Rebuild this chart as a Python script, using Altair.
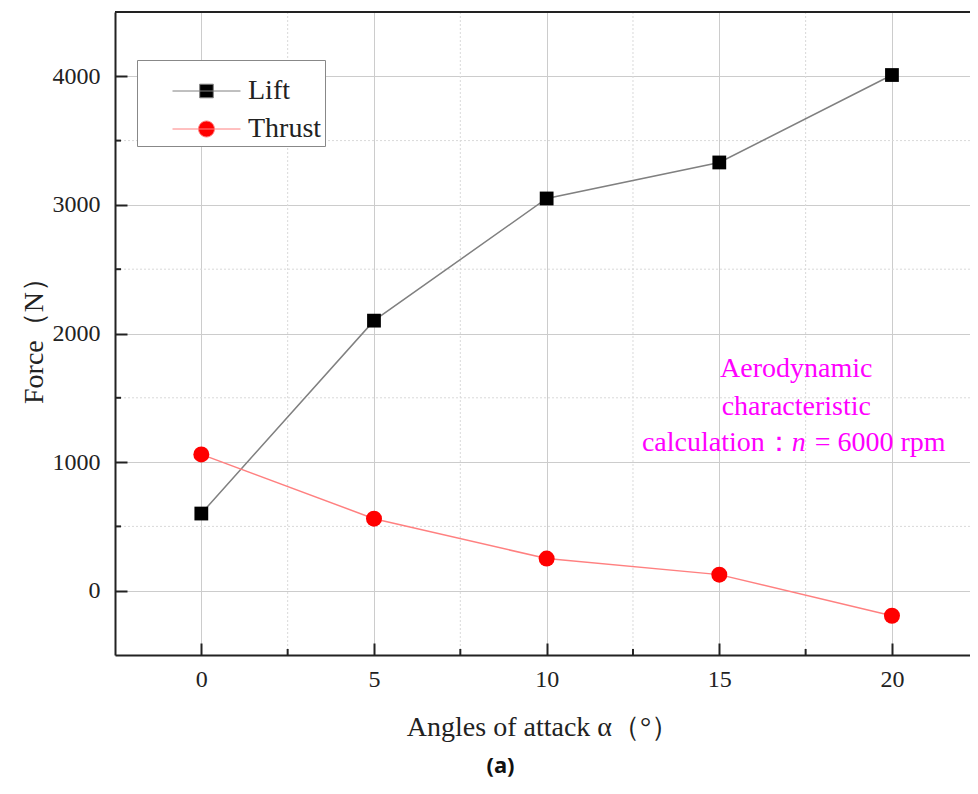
import altair as alt
import pandas as pd

# ---------------- data ----------------
angles = [0, 5, 10, 15, 20]
lift = [600, 2100, 3050, 3330, 4010]
thrust = [1060, 560, 250, 125, -195]
series_names = ["Lift", "Thrust"]
marker_colors = ["#000000", "#ff0000"]
line_colors = ["#808080", "#ff8080"]

x_major = [0, 5, 10, 15, 20]
x_minor = [2.5, 7.5, 12.5, 17.5]
y_major = [0, 1000, 2000, 3000, 4000]
y_minor = [500, 1500, 2500, 3500]

note_lines = ["Aerodynamic", "characteristic"]
note_line_y = [1724, 1428]
note_x = 17.23
note3_parts = ["calculation：", "n", "= 6000 rpm"]
note3_x = 17.30
note3_y = 1148

df = pd.DataFrame({
    "angle": angles * 2,
    "force": lift + thrust,
    "series": ["Lift"] * len(angles) + ["Thrust"] * len(angles),
})

W, H = 855, 643
FONT = "Liberation Serif"
TXT = "#222222"

xs = alt.Scale(domain=[-2.5, 22.26], nice=False, zero=False)
ys = alt.Scale(domain=[-500, 4500], nice=False, zero=False)

xaxis = alt.Axis(values=x_major, title="Angles of attack α（°）", grid=True,
                 gridColor="#cccccc", gridWidth=1, domainColor=TXT, domainWidth=2,
                 tickColor=TXT, tickWidth=2, tickSize=alt.ExprRef("-12"),
                 labelPadding=24, labelFont=FONT, labelFontSize=24, labelColor=TXT,
                 titleFont=FONT, titleFontSize=28, titleFontWeight="normal",
                 titleColor=TXT, titlePadding=22, format="d", labelFlush=False)
yaxis = alt.Axis(values=y_major, title="Force（N）", grid=True,
                 gridColor="#cccccc", gridWidth=1, domainColor=TXT, domainWidth=2,
                 tickColor=TXT, tickWidth=2, tickSize=alt.ExprRef("-12"),
                 labelPadding=27, labelFont=FONT, labelFontSize=24, labelColor=TXT,
                 titleFont=FONT, titleFontSize=28, titleFontWeight="normal",
                 titleColor=TXT, titlePadding=4, format="d", labelFlush=False)

sq_path = "M-1,0H1M-0.2,-0.2H0.2V0.2H-0.2Z"
ci_path = "M-1,0H1M-0.235,0A0.235,0.235,0,1,1,0.235,0A0.235,0.235,0,1,1,-0.235,0Z"

legend = alt.Legend(
    title=" ", orient="none", legendX=22, legendY=48, padding=3,
    strokeColor="#888888", fillColor="white",
    symbolType=alt.ExprRef(f"datum.value === 'Lift' ? '{sq_path}' : '{ci_path}'"),
    symbolStrokeColor=alt.ExprRef("datum.value === 'Lift' ? '#808080' : '#ff8080'"),
    symbolSize=4624, symbolStrokeWidth=1, symbolOpacity=1,
    clipHeight=28, rowPadding=10, symbolOffset=32, labelOffset=7,
    labelFont=FONT, labelFontSize=28, labelColor=TXT,
    titleFontSize=6, titlePadding=8,
)

X = alt.X("angle:Q", scale=xs, axis=xaxis)
Y = alt.Y("force:Q", scale=ys, axis=yaxis)
color = alt.Color("series:N", scale=alt.Scale(domain=series_names, range=marker_colors), legend=legend)

xminor_df = pd.DataFrame({"v": x_minor})
yminor_df = pd.DataFrame({"v": y_minor})

xminor_grid = alt.Chart(xminor_df).mark_rule(color="#d9d9d9", strokeDash=[2, 2], strokeWidth=1).encode(
    x=alt.X("v:Q", scale=xs, axis=xaxis))
yminor_grid = alt.Chart(yminor_df).mark_rule(color="#d9d9d9", strokeDash=[2, 2], strokeWidth=1).encode(
    y=alt.Y("v:Q", scale=ys, axis=yaxis))
xminor_tick = alt.Chart(xminor_df).mark_rule(color=TXT, strokeWidth=2).encode(
    x=alt.X("v:Q", scale=xs, axis=xaxis), y=alt.value(H), y2=alt.value(H - 6))
yminor_tick = alt.Chart(yminor_df).mark_rule(color=TXT, strokeWidth=2).encode(
    y=alt.Y("v:Q", scale=ys, axis=yaxis), x=alt.value(0), x2=alt.value(6))
top_border = alt.Chart(xminor_df).mark_rule(color=TXT, strokeWidth=2).encode(
    y=alt.value(0), x=alt.value(0), x2=alt.value(W))

base = alt.Chart(df)
line_lift = base.transform_filter("datum.series === 'Lift'").mark_line(
    color=line_colors[0], strokeWidth=1.5).encode(x=X, y=Y)
line_thrust = base.transform_filter("datum.series === 'Thrust'").mark_line(
    color=line_colors[1], strokeWidth=1.5).encode(x=X, y=Y)
pts_lift = base.transform_filter("datum.series === 'Lift'").mark_point(
    shape="square", filled=True, size=190, opacity=1).encode(x=X, y=Y, color=color)
pts_thrust = base.transform_filter("datum.series === 'Thrust'").mark_point(
    shape="circle", filled=True, size=256, opacity=1).encode(x=X, y=Y, color=color)

note_df = pd.DataFrame({"t": note_lines, "y": note_line_y, "x": [note_x] * len(note_lines)})
note12 = alt.Chart(note_df).mark_text(font=FONT, fontSize=28, color="#ff00ff", align="center",
                                      baseline="middle").encode(
    x=alt.X("x:Q", scale=xs, axis=xaxis), y=alt.Y("y:Q", scale=ys, axis=yaxis), text="t:N")

n3 = pd.DataFrame({"t": note3_parts, "x": [note3_x] * 3, "y": [note3_y] * 3})
def part(i, align, dx, style):
    return alt.Chart(n3.iloc[[i]]).mark_text(font=FONT, fontSize=28, color="#ff00ff", align=align,
                                             baseline="middle", dx=dx, fontStyle=style).encode(
        x=alt.X("x:Q", scale=xs, axis=xaxis), y=alt.Y("y:Q", scale=ys, axis=yaxis), text="t:N")
note3a = part(0, "right", -6, "normal")
note3b = part(1, "center", 0, "italic")
note3c = part(2, "left", 16, "normal")

chart = alt.layer(
    xminor_grid, yminor_grid, xminor_tick, yminor_tick, top_border,
    line_lift, line_thrust, pts_lift, pts_thrust,
    note12, note3a, note3b, note3c,
).properties(
    width=W, height=H,
    padding={"left": 107, "top": 4, "right": 0, "bottom": 130},
    autosize=alt.AutoSizeParams(type="none"),
    title=alt.TitleParams("(a)", orient="bottom", font="Noto Sans", fontSize=22,
                          fontWeight="bold", color="#111111", offset=15, anchor="middle",
                          frame="group", dx=-42),
).configure_view(stroke=None).configure(background="white")

chart.save("out.html", embed_options={"renderer": "svg", "actions": False})
